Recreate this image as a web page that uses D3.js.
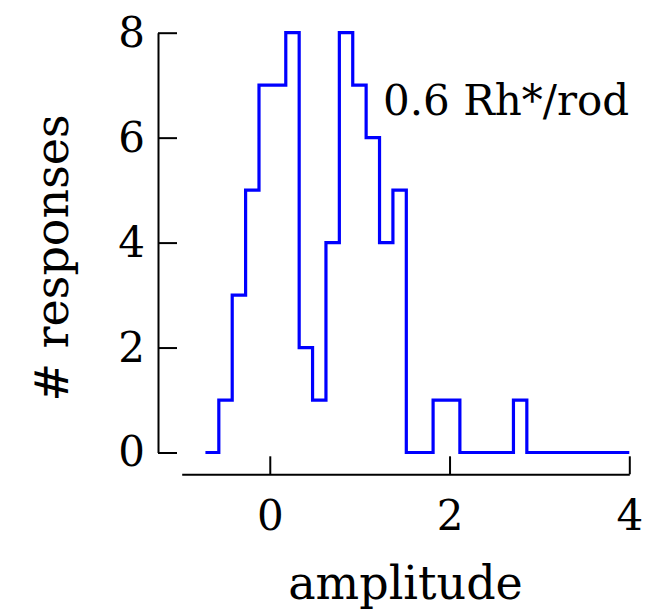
<!DOCTYPE html>
<html>
<head>
<meta charset="utf-8">
<script src="https://cdn.jsdelivr.net/npm/d3@7"></script>
<style>
  body { margin: 0; background: #fff; }
  svg text { font-family: "DejaVu Serif", serif; fill: #000; }
</style>
</head>
<body>
<svg id="chart" width="660" height="616"></svg>
<script>
// histogram bin edges (amplitude) and counts
var binEdges = [-0.716, -0.567, -0.418, -0.269, -0.12, 0.029, 0.178, 0.327,
  0.476, 0.625, 0.774, 0.923, 1.072, 1.221, 1.37, 1.519, 1.668, 1.817, 1.966,
  2.115, 2.264, 2.413, 2.562, 2.711, 2.86, 3.009, 3.158, 3.307, 3.456, 3.605,
  3.754, 3.903, 4.0];
var counts = [0, 1, 3, 5, 7, 7, 8, 2, 1, 4, 8, 7, 6, 4, 5, 0, 0, 1, 1,
  0, 0, 0, 0, 1, 0, 0, 0, 0, 0, 0, 0, 0];

var xTicks = [0, 2, 4];
var yTicks = [0, 2, 4, 6, 8];
var xLabel = "amplitude",
  yLabel = "# responses",
  note = "0.6 Rh*/rod";

var svg = d3.select("#chart");

var x = d3.scaleLinear().domain([-0.98, 4]).range([181.7, 629.3]);
var y = d3.scaleLinear().domain([0, 8]).range([452.5, 32.7]);

// y axis, offset to the left, ticks pointing in
var gy = svg.append("g")
  .attr("transform", "translate(158,0)")
  .call(d3.axisLeft(y).tickValues(yTicks).tickFormat(d3.format("d"))
    .tickSizeInner(-19).tickSizeOuter(0).tickPadding(13));

// x axis, below the data, ticks pointing up
var gx = svg.append("g")
  .attr("transform", "translate(0,474.3)")
  .call(d3.axisBottom(x).tickValues(xTicks).tickFormat(d3.format("d"))
    .tickSizeInner(-18).tickSizeOuter(0).tickPadding(26));

[gx, gy].forEach(function (g) {
  g.selectAll("path, line").attr("stroke", "#000").attr("stroke-width", 2);
  g.selectAll("text")
    .attr("fill", "#000")
    .style("font-family", "DejaVu Serif")
    .style("font-size", "42px");
});

// step outline of the histogram
var pts = counts.map(function (c, i) { return [binEdges[i], c]; });
pts.push([binEdges[binEdges.length - 1], counts[counts.length - 1]]);

var line = d3.line()
  .x(function (d) { return x(d[0]); })
  .y(function (d) { return y(d[1]); })
  .curve(d3.curveStepAfter);

svg.append("path")
  .datum(pts)
  .attr("d", line)
  .attr("fill", "none")
  .attr("stroke", "#0000ff")
  .attr("stroke-width", 3.2);

// labels
svg.append("text")
  .attr("x", 405.5)
  .attr("y", 599)
  .attr("text-anchor", "middle")
  .style("font-size", "46px")
  .text(xLabel);

svg.append("text")
  .attr("transform", "translate(68,258) rotate(-90)")
  .attr("text-anchor", "middle")
  .style("font-size", "46px")
  .text(yLabel);

svg.append("text")
  .attr("x", 383)
  .attr("y", 115)
  .style("font-size", "42px")
  .text(note);
</script>
</body>
</html>
